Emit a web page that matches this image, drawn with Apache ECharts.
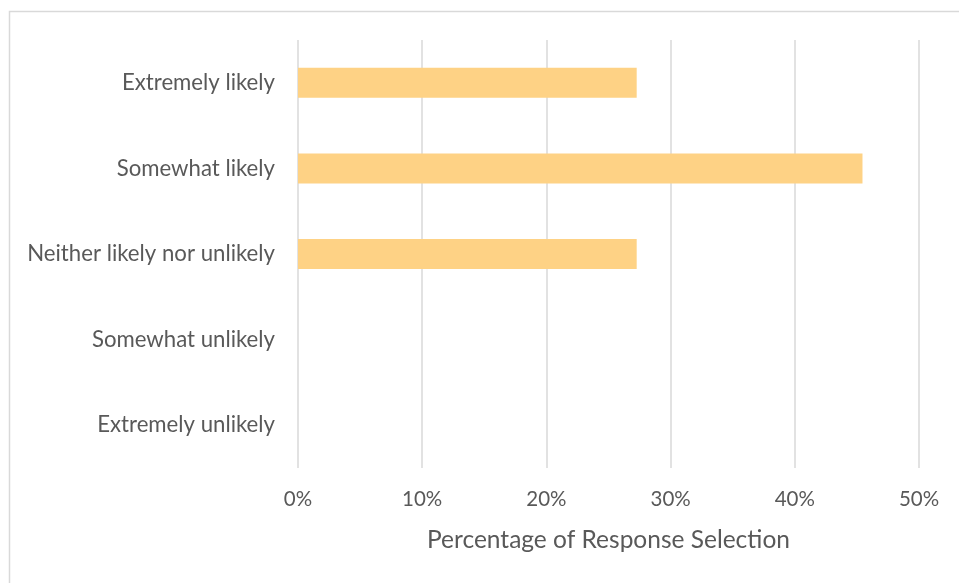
<!DOCTYPE html>
<html>
<head>
<meta charset="utf-8">
<script src="https://cdn.jsdelivr.net/npm/echarts@6/dist/echarts.min.js"></script>
<style>
  html, body { margin: 0; padding: 0; background: #fff; }
  #chart { width: 959px; height: 583px; }
</style>
</head>
<body>
<div id="chart"></div>
<script>
// Survey response categories, top to bottom
const categories = [
  'Extremely likely',
  'Somewhat likely',
  'Neither likely nor unlikely',
  'Somewhat unlikely',
  'Extremely unlikely'
];
// Share of respondents choosing each response (fraction)
const shares = [0.2727, 0.4545, 0.2727, 0, 0];
// Axis ticks
const xTicks = [0, 0.1, 0.2, 0.3, 0.4, 0.5];
const xAxisTitle = 'Percentage of Response Selection';

const FONT = 'Lato, "Open Sans", sans-serif';
const TEXT = '#595959';
const GRID = '#d9d9d9';

const chart = echarts.init(document.getElementById('chart'), null, { renderer: 'canvas' });
chart.setOption({
  animation: false,
  backgroundColor: '#ffffff',
  graphic: [{
    type: 'rect',
    shape: { x: 9.5, y: 11.5, width: 960, height: 580 },
    style: { fill: 'none', stroke: GRID, lineWidth: 1.5 },
    silent: true
  }],
  grid: { left: 298, right: 40, top: 40, bottom: 115, containLabel: false },
  xAxis: {
    type: 'value',
    min: xTicks[0],
    max: xTicks[xTicks.length - 1],
    interval: xTicks[1] - xTicks[0],
    axisLine: { show: false },
    axisTick: { show: false },
    splitLine: { show: true, lineStyle: { color: GRID, width: 1.5 } },
    axisLabel: {
      color: TEXT, fontFamily: FONT, fontSize: 20.5, margin: 21,
      formatter: v => Math.round(v * 100) + '%'
    },
    name: xAxisTitle,
    nameLocation: 'middle',
    nameGap: 60,
    nameTextStyle: { color: TEXT, fontFamily: FONT, fontSize: 24.5 }
  },
  yAxis: {
    type: 'category',
    data: categories,
    inverse: true,
    axisLine: { show: false },
    axisTick: { show: false },
    splitLine: { show: false },
    axisLabel: { color: TEXT, fontFamily: FONT, fontSize: 22.2, margin: 23 }
  },
  series: [{
    type: 'bar',
    data: shares,
    barWidth: 30,
    itemStyle: { color: '#FED285' },
    silent: true
  }]
});
</script>
</body>
</html>
